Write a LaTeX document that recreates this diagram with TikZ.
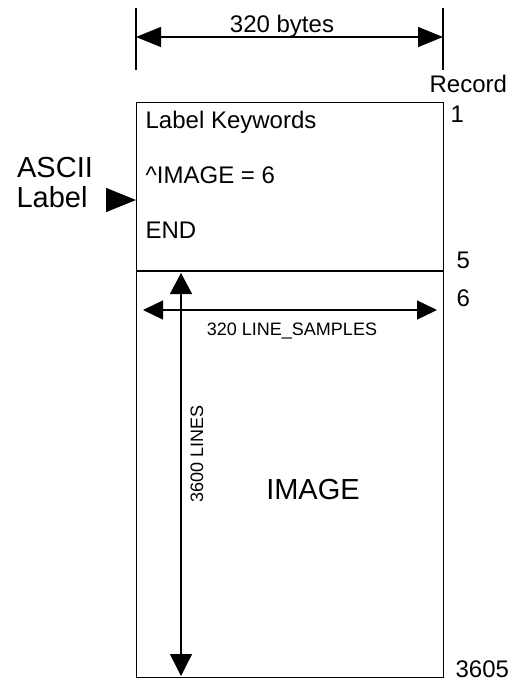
\documentclass[tikz,border=0pt]{standalone}
\usepackage{fontspec}
\setmainfont{Liberation Sans}
\usetikzlibrary{arrows.meta}
\begin{document}
\begin{tikzpicture}[x=1pt,y=-1pt,line width=1.3pt,
  txt/.style={inner sep=0pt,font=\fontsize{24}{24}\selectfont},
  smalltxt/.style={inner sep=0pt,font=\fontsize{18}{18}\selectfont},
  bigtxt/.style={inner sep=0pt,font=\fontsize{29}{29}\selectfont},
  dimA/.style={{Triangle[length=25pt,width=20pt]}-{Triangle[length=25pt,width=20pt]}},
  dimB/.style={{Triangle[length=20pt,width=19pt]}-{Triangle[length=20pt,width=19pt]}},
  dimC/.style={{Triangle[length=21pt,width=22pt]}-{Triangle[length=22pt,width=22pt]}},
  pointer/.style={-{Triangle[length=30pt,width=24pt]}}]
\useasboundingbox (0,0) rectangle (511,681);
% main box
\node[draw,minimum width=307pt,minimum height=575pt,inner sep=0pt,anchor=north west] (box) at (136,102) {};
\coordinate (divL) at (136,271);
\coordinate (divR) at (443,271);
\draw (divL) -- (divR);
% top dimension
\coordinate (e1t) at (136,8);  \coordinate (e1b) at (136,70);
\coordinate (e2t) at (443,8);  \coordinate (e2b) at (443,70);
\draw (e1t) -- (e1b);
\draw (e2t) -- (e2b);
\coordinate (d1) at (136,37); \coordinate (d2) at (443,37);
\draw[dimA] (d1) -- (d2);
\node[txt,anchor=base] (bytes) at (282,32) {320 bytes};
% record labels
\node[txt,anchor=base west] (rec) at (429,92) {Record};
\node[txt,anchor=base west] (r1) at (450,122) {1};
\node[txt,anchor=base west] (r5) at (456,268) {5};
\node[txt,anchor=base west] (r6) at (456,306) {6};
\node[txt,anchor=base west] (r3605) at (455,677) {3605};
% label text
\node[txt,anchor=base west] (kw) at (145,128) {Label Keywords};
\node[txt,anchor=base west] (img) at (145,183) {\textasciicircum IMAGE = 6};
\node[txt,anchor=base west] (end) at (145,238) {END};
% ASCII label
\node[bigtxt,anchor=base] (ascii) at (55,177) {ASCII};
\node[bigtxt,anchor=base] (lbl) at (52,207) {Label};
\coordinate (ptr) at (106,200);
\draw[pointer] (ptr) -- (box.west |- ptr);
% line samples
\coordinate (h1) at (143,310); \coordinate (h2) at (437,310);
\draw[dimB] (h1) -- (h2);
\node[smalltxt,anchor=base] (ls) at (292,335) {320 LINE\_SAMPLES};
% lines
\coordinate (v1) at (181,273); \coordinate (v2) at (181,676);
\draw[dimC] (v1) -- (v2);
\node[smalltxt,rotate=90,anchor=base] (lines) at (203,454) {3600 LINES};
% IMAGE
\node[bigtxt,anchor=base] (image) at (313,499) {IMAGE};
\end{tikzpicture}
\end{document}
